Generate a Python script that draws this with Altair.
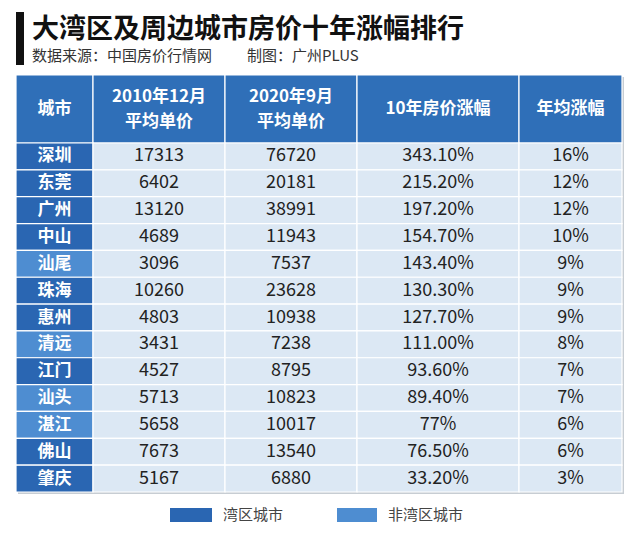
import altair as alt
import pandas as pd

# ---------------- data ----------------
cities = ["深圳", "东莞", "广州", "中山", "汕尾", "珠海", "惠州", "清远", "江门", "汕头", "湛江", "佛山", "肇庆"]
price_2010 = [17313, 6402, 13120, 4689, 3096, 10260, 4803, 3431, 4527, 5713, 5658, 7673, 5167]
price_2020 = [76720, 20181, 38991, 11943, 7537, 23628, 10938, 7238, 8795, 10823, 10017, 13540, 6880]
growth_10y = ["343.10%", "215.20%", "197.20%", "154.70%", "143.40%", "130.30%", "127.70%",
              "111.00%", "93.60%", "89.40%", "77%", "76.50%", "33.20%"]
growth_annual = ["16%", "12%", "12%", "10%", "9%", "9%", "9%", "8%", "7%", "7%", "6%", "6%", "3%"]
bay_area = [True, True, True, True, False, True, True, False, True, False, False, True, True]
headers = [["城市"], ["2010年12月", "平均单价"], ["2020年9月", "平均单价"], ["10年房价涨幅"], ["年均涨幅"]]
legend_labels = ["湾区城市", "非湾区城市"]
title_text = "大湾区及周边城市房价十年涨幅排行"
source_text = "数据来源：中国房价行情网"
credit_text = "制图：广州PLUS"

# ---------------- layout / style ----------------
COL_EDGES = [16, 93, 225, 357, 519, 622]
HEAD_TOP, HEAD_BOT, TABLE_BOT = 75, 143, 492
ROW_H = (TABLE_BOT - HEAD_BOT) / len(cities)
LINE_GAP = 25
C_HEAD = "#2f6fb8"
C_BAY = "#2a66b2"
C_NONBAY = "#4e8dd1"
C_BODY = "#dce8f4"
FONT = "Noto Sans CJK SC"

W, H = 624, 517
xs = alt.Scale(domain=[8, 8 + W], nice=False, zero=False)
ys = alt.Scale(domain=[8, 8 + H], reverse=True, nice=False, zero=False)

# cells
cells = []
texts_body, texts_city, texts_head = [], [], []
for j, lines in enumerate(headers):
    cells.append(dict(x=COL_EDGES[j], x2=COL_EDGES[j + 1], y=HEAD_TOP, y2=HEAD_BOT, fill=C_HEAD))
    mid = (HEAD_TOP + HEAD_BOT) / 2
    n = len(lines)
    for k, ln in enumerate(lines):
        texts_head.append(dict(x=(COL_EDGES[j] + COL_EDGES[j + 1]) / 2,
                               y=mid + (k - (n - 1) / 2) * LINE_GAP, t=ln))
for i, c in enumerate(cities):
    top = HEAD_BOT + i * ROW_H
    bot = top + ROW_H
    cy = (top + bot) / 2
    row_vals = [c, str(price_2010[i]), str(price_2020[i]), growth_10y[i], growth_annual[i]]
    for j, v in enumerate(row_vals):
        if j == 0:
            fill = C_BAY if bay_area[i] else C_NONBAY
        else:
            fill = C_BODY
        cells.append(dict(x=COL_EDGES[j], x2=COL_EDGES[j + 1], y=top, y2=bot, fill=fill))
        item = dict(x=(COL_EDGES[j] + COL_EDGES[j + 1]) / 2, y=cy, t=v)
        (texts_city if j == 0 else texts_body).append(item)

cells_df = pd.DataFrame(cells)

rects = alt.Chart(cells_df).mark_rect(stroke="white", strokeWidth=1.2).encode(
    x=alt.X("x:Q", scale=xs, axis=None),
    x2="x2:Q",
    y=alt.Y("y:Q", scale=ys, axis=None),
    y2="y2:Q",
    fill=alt.Fill("fill:N", scale=None),
)

# table shadow
shadow = alt.Chart(pd.DataFrame([dict(x=COL_EDGES[0] + 2, x2=COL_EDGES[-1] + 2,
                                      y=HEAD_TOP + 2, y2=TABLE_BOT + 2)])).mark_rect(
    fill="#b9c0c8", opacity=0.8).encode(
    x=alt.X("x:Q", scale=xs, axis=None), x2="x2:Q",
    y=alt.Y("y:Q", scale=ys, axis=None), y2="y2:Q")

def text_layer(rows, **kw):
    return alt.Chart(pd.DataFrame(rows)).mark_text(font=FONT, **kw).encode(
        x=alt.X("x:Q", scale=xs, axis=None),
        y=alt.Y("y:Q", scale=ys, axis=None),
        text="t:N",
    )

body_text = text_layer(texts_body, fontSize=18, color="#222222", baseline="middle", align="center")
city_text = text_layer(texts_city, fontSize=17, fontWeight="bold", color="white", baseline="middle", align="center")
head_text = text_layer(texts_head, fontSize=17, fontWeight="bold", color="white", baseline="middle",
                       align="center")

# title block
bar = alt.Chart(pd.DataFrame([dict(x=16, x2=24, y=12, y2=65)])).mark_rect(fill="#111111").encode(
    x=alt.X("x:Q", scale=xs, axis=None), x2="x2:Q",
    y=alt.Y("y:Q", scale=ys, axis=None), y2="y2:Q")
title = text_layer([dict(x=32, y=30, t=title_text)], fontSize=27, fontWeight="bold", color="#111111",
                   align="left", baseline="middle")
subs = text_layer([dict(x=32, y=56, t=source_text), dict(x=247, y=56, t=credit_text)],
                  fontSize=15, color="#333333", align="left", baseline="middle")

# legend
leg_df = pd.DataFrame([
    dict(x=170, x2=212, y=508, y2=522, fill=C_BAY, tx=223, t=legend_labels[0]),
    dict(x=337, x2=377, y=508, y2=522, fill=C_NONBAY, tx=388, t=legend_labels[1]),
])
leg_rect = alt.Chart(leg_df).mark_rect().encode(
    x=alt.X("x:Q", scale=xs, axis=None), x2="x2:Q",
    y=alt.Y("y:Q", scale=ys, axis=None), y2="y2:Q",
    fill=alt.Fill("fill:N", scale=None))
leg_text = alt.Chart(leg_df).mark_text(font=FONT, fontSize=15, color="#444444", align="left",
                                       baseline="middle").encode(
    x=alt.X("tx:Q", scale=xs, axis=None),
    y=alt.Y("ym:Q", scale=ys, axis=None),
    text="t:N").transform_calculate(ym="(datum.y + datum.y2) / 2")

chart = alt.layer(shadow, rects, body_text, city_text, head_text, bar, title, subs, leg_rect, leg_text).properties(
    width=W, height=H, padding=0, autosize=alt.AutoSizeParams(type="none"),
    background="white",
).configure_view(stroke=None)

chart.save("out.html", embed_options={"renderer": "svg", "actions": False})
